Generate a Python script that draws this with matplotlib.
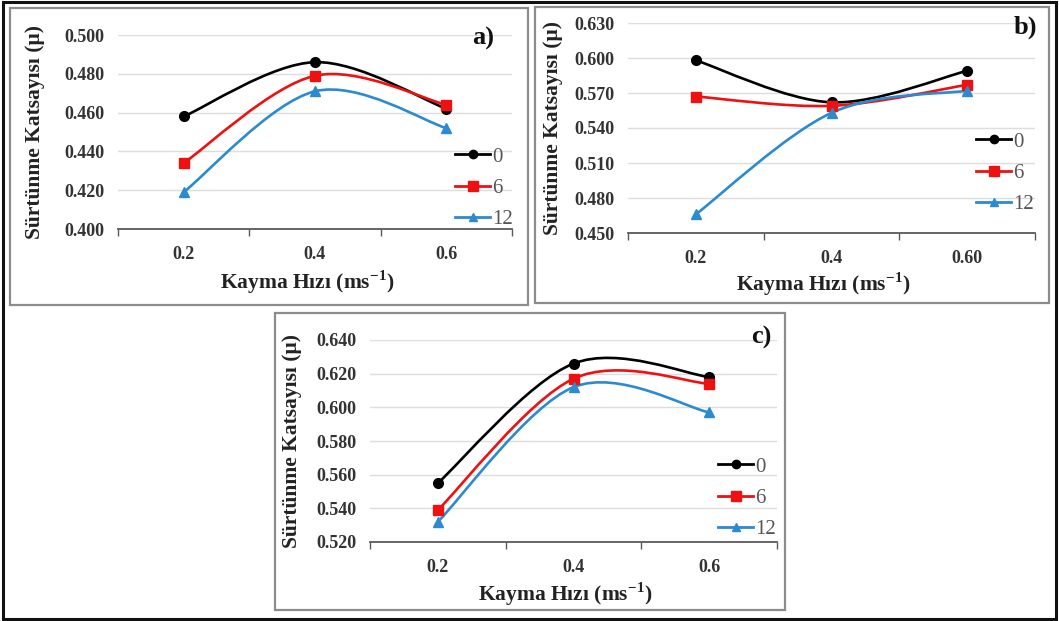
import matplotlib
matplotlib.use("Agg")
import matplotlib.pyplot as plt
from matplotlib.path import Path
from matplotlib.patches import PathPatch, Rectangle
from matplotlib.lines import Line2D

plt.rcParams['font.family'] = ['Liberation Serif', 'DejaVu Serif']
plt.rcParams['mathtext.fontset'] = 'custom'
plt.rcParams['mathtext.rm'] = 'Liberation Serif'
plt.rcParams['mathtext.bf'] = 'Liberation Serif:bold'

# data
series_names = ['0', '6', '12']
xlab_a = ['0.2', '0.4', '0.6']
xlab_b = ['0.2', '0.4', '0.60']
xlab_c = ['0.2', '0.4', '0.6']

a_0 = [0.458, 0.486, 0.462]
a_6 = [0.434, 0.479, 0.464]
a_12 = [0.419, 0.471, 0.452]

b_0 = [0.598, 0.562, 0.589]
b_6 = [0.567, 0.559, 0.577]
b_12 = [0.466, 0.553, 0.572]

c_0 = [0.555, 0.626, 0.618]
c_6 = [0.539, 0.617, 0.614]
c_12 = [0.532, 0.612, 0.597]

colors = ['#000000', '#ee1111', '#2b8ad0']
markers = ['o', 's', '^']
msizes = [7, 7.5, 7]

W, H = 1059, 621
fig = plt.figure(figsize=(W / 100, H / 100), dpi=100)


def px_rect(l, t, r, b):
    return [l / W, 1 - b / H, (r - l) / W, (b - t) / H]


def smooth_path(ys):
    # excel style smoothed line: bezier segments through the points
    pts = list(zip(range(len(ys)), ys))
    verts = [pts[0]]
    codes = [Path.MOVETO]
    n = len(pts)
    for i in range(n - 1):
        p0 = pts[max(i - 1, 0)]
        p1 = pts[i]
        p2 = pts[i + 1]
        p3 = pts[min(i + 2, n - 1)]
        c1 = (p1[0] + (p2[0] - p0[0]) / 6, p1[1] + (p2[1] - p0[1]) / 6)
        c2 = (p2[0] - (p3[0] - p1[0]) / 6, p2[1] - (p3[1] - p1[1]) / 6)
        verts += [c1, c2, p2]
        codes += [Path.CURVE4] * 3
    return Path(verts, codes)


def panel(rect, series, xlabels, ylim, step, letter, letter_xy, legend_xy,
          ylab_x, xlab_y):
    ax = fig.add_axes(rect)
    yt = []
    v = ylim[0]
    while v <= ylim[1] + 1e-9:
        yt.append(round(v, 3))
        v += step
    ax.set_ylim(ylim)
    ax.set_xlim(-0.5, len(xlabels) - 0.5)
    ax.set_yticks(yt)
    ax.set_yticklabels(['%.3f' % t for t in yt])
    ax.set_xticks(range(len(xlabels)))
    ax.set_xticklabels(xlabels)
    ax.set_xticks([i - 0.5 for i in range(len(xlabels) + 1)], minor=True)
    ax.tick_params(axis='x', which='major', length=0, pad=12)
    ax.tick_params(axis='x', which='minor', length=5, width=1, color='#595959', direction='out')
    ax.tick_params(axis='y', length=0, pad=10)
    for lab in ax.get_xticklabels() + ax.get_yticklabels():
        lab.set_fontweight('bold')
        lab.set_fontsize(13)
        lab.set_color('#333333')
    for s in ['top', 'right', 'left']:
        ax.spines[s].set_visible(False)
    ax.spines['bottom'].set_color('#595959')
    ax.spines['bottom'].set_linewidth(1.3)
    ax.grid(axis='y', color='#dddddd', linewidth=1)
    ax.set_axisbelow(True)

    handles = []
    for ys, col, mk, ms, name in zip(series, colors, markers, msizes, series_names):
        ax.add_patch(PathPatch(smooth_path(ys), facecolor='none', edgecolor=col,
                               linewidth=1.9, zorder=3))
        ax.plot(range(len(ys)), ys, linestyle='none', marker=mk, markersize=ms,
                color=col, zorder=4)
        handles.append(Line2D([], [], color=col, linewidth=2, marker=mk,
                              markersize=ms - 1, label=name))

    leg = ax.legend(handles=handles, loc='center left', frameon=False,
                    bbox_to_anchor=(legend_xy[0] / W, 1 - legend_xy[1] / H),
                    bbox_transform=fig.transFigure, borderpad=0, borderaxespad=0,
                    handlelength=1.7, handletextpad=0.1, labelspacing=0.55,
                    prop={'size': 15})
    for t in leg.get_texts():
        t.set_color('#555555')

    ax.set_ylabel('Sürtünme Katsayısı (μ)', fontsize=15.5, fontweight='bold',
                  color='#222222')
    ax.yaxis.set_label_coords(ylab_x, 0.5)
    ax.set_xlabel(r'Kayma Hızı (ms$^{\mathbf{-1}}$)', fontsize=15.5,
                  fontweight='bold', color='#222222')
    ax.xaxis.set_label_coords(0.48, xlab_y)
    fig.text(letter_xy[0] / W, 1 - letter_xy[1] / H, letter, fontsize=19,
             fontweight='bold', ha='right', va='center', color='#111111')
    return ax


# panel frames
for (l, t, r, b) in [(10, 8, 528, 305), (535, 7, 1049, 303), (275, 313, 785, 610)]:
    fig.add_artist(Rectangle((l / W, 1 - b / H), (r - l) / W, (b - t) / H,
                             transform=fig.transFigure, fill=False,
                             edgecolor='#8c8c8c', linewidth=1.6))
fig.add_artist(Rectangle((3 / W, 1 - 619 / H), 1053 / W, 617 / H,
                         transform=fig.transFigure, fill=False,
                         edgecolor='#111111', linewidth=2.2))

panel(px_rect(118, 35, 512, 229), [a_0, a_6, a_12], xlab_a, (0.400, 0.500), 0.02,
      'a)', (494, 38), (455, 188), -0.185, -0.205)
panel(px_rect(628, 23, 1035, 233), [b_0, b_6, b_12], xlab_b, (0.450, 0.630), 0.03,
      'b)', (1037, 27), (976, 173), -0.16, -0.18)
panel(px_rect(370, 340, 777, 542), [c_0, c_6, c_12], xlab_c, (0.520, 0.640), 0.02,
      'c)', (772, 337), (718, 498), -0.167, -0.19)

fig.savefig('out.png', dpi=100)
